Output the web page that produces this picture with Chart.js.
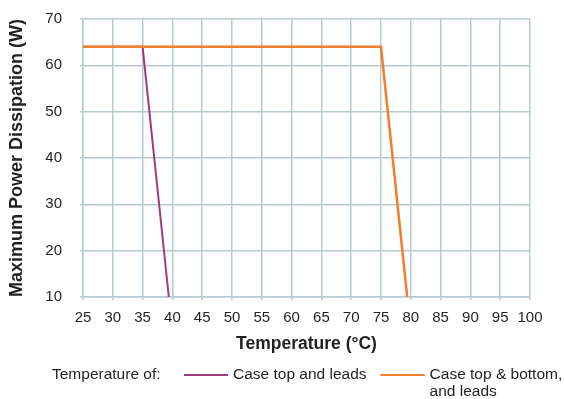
<!DOCTYPE html>
<html>
<head>
<meta charset="utf-8">
<script src="https://cdn.jsdelivr.net/npm/chart.js@4.4.1/dist/chart.umd.min.js"></script>
<style>
  html, body { margin: 0; padding: 0; background: #fff; }
  #wrap { width: 564px; height: 399px; }
</style>
</head>
<body>
<div id="wrap"><canvas id="chart" width="564" height="399"></canvas></div>
<script>
// values
const xTitle = 'Temperature (°C)';
const yTitle = 'Maximum Power Dissipation (W)';
const legendPrefix = 'Temperature of:';

const seriesNames = ['Case top and leads', 'Case top & bottom,\nand leads'];
const caseTopTemps = [25, 35, 39.4];
const caseTopPower = [64, 64, 10];
const caseBothTemps = [25, 75, 79.4];
const caseBothPower = [64, 64, 10];

const xMin = 25, xMax = 100, xStep = 5;
const yMin = 10, yMax = 70, yStep = 10;

const FONT = '"Liberation Sans", Arial, sans-serif';
const TEXT = '#231f20';
const GRID = '#b8c9d0';

const toPoints = (xs, ys) => xs.map((x, i) => ({ x: x, y: ys[i] }));

// draws the "Temperature of:  ---- name  ---- name" row under the axis
const bottomLegend = {
    id: 'bottomLegend',
    afterDraw(chart) {
        const ctx = chart.ctx;
        ctx.save();
        ctx.font = '15.5px ' + FONT;
        ctx.fillStyle = TEXT;
        ctx.textBaseline = 'middle';
        ctx.textAlign = 'left';
        const y = 375;
        ctx.fillText(legendPrefix, 52, y);

        let x = 184;
        chart.data.datasets.forEach(ds => {
            ctx.strokeStyle = ds.borderColor;
            ctx.lineWidth = 2;
            ctx.beginPath();
            ctx.moveTo(x, y);
            ctx.lineTo(x + 44, y);
            ctx.stroke();

            const lines = ds.label.split('\n');
            lines.forEach((t, i) => {
                ctx.fillText(t, x + 49, y + i * 17);
            });
            x = x + 49 + ctx.measureText(lines[0]).width + 14;
        });
        ctx.restore();
    }
};

new Chart(document.getElementById('chart'), {
    type: 'line',
    data: {
        datasets: [
            {
                label: seriesNames[0],
                data: toPoints(caseTopTemps, caseTopPower),
                borderColor: '#9e3d7e',
                borderWidth: 2,
                pointRadius: 0,
                tension: 0,
                order: 1
            },
            {
                label: seriesNames[1],
                data: toPoints(caseBothTemps, caseBothPower),
                borderColor: '#f07e2c',
                borderWidth: 2.5,
                pointRadius: 0,
                tension: 0,
                order: 0
            }
        ]
    },
    options: {
        responsive: false,
        animation: false,
        devicePixelRatio: 1,
        layout: { padding: { left: 6, right: 34, top: 19, bottom: 44 } },
        plugins: {
            legend: { display: false },
            tooltip: { enabled: false }
        },
        scales: {
            x: {
                type: 'linear',
                min: xMin,
                max: xMax,
                afterFit: (scale) => {
                    scale.height = 58;
                    scale.paddingLeft = 0;
                    scale.paddingRight = 0;
                },
                ticks: {
                    stepSize: xStep,
                    autoSkip: false,
                    maxRotation: 0,
                    minRotation: 0,
                    padding: 9,
                    color: TEXT,
                    font: { family: FONT, size: 15 }
                },
                grid: { color: GRID, lineWidth: 1.5, tickLength: 3 },
                border: { color: GRID, width: 1.5 },
                title: {
                    display: true,
                    text: xTitle,
                    color: TEXT,
                    padding: { top: 0, bottom: 0 },
                    font: { family: FONT, size: 17.5, weight: 'bold' }
                }
            },
            y: {
                min: yMin,
                max: yMax,
                afterFit: (scale) => {
                    scale.width = 77;
                    scale.paddingTop = 0;
                    scale.paddingBottom = 0;
                },
                ticks: {
                    stepSize: yStep,
                    padding: 18,
                    color: TEXT,
                    font: { family: FONT, size: 15 }
                },
                grid: { color: GRID, lineWidth: 1.5, tickLength: 3 },
                border: { color: GRID, width: 1.5 },
                title: {
                    display: true,
                    text: yTitle,
                    color: TEXT,
                    padding: { top: 0, bottom: 0 },
                    font: { family: FONT, size: 18, weight: 'bold' }
                }
            }
        }
    },
    plugins: [bottomLegend]
});
</script>
</body>
</html>
